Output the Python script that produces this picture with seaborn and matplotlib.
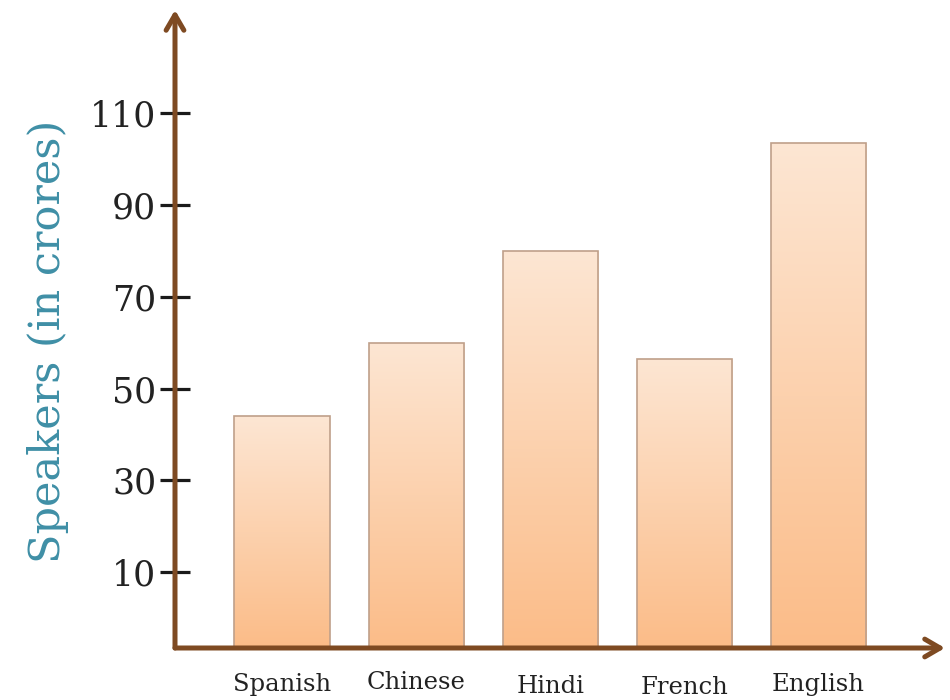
import numpy as np
import pandas as pd
import matplotlib
matplotlib.use("Agg")
import matplotlib.pyplot as plt
import seaborn as sns
from matplotlib.colors import LinearSegmentedColormap
from matplotlib.transforms import ScaledTranslation

# ---- data ----
languages = ["Spanish", "Chinese", "Hindi", "French", "English"]
speakers = [44, 60, 80, 56.5, 103.5]
y_ticks = [10, 30, 50, 70, 90, 110]
y_label = "Speakers (in crores)"

df = pd.DataFrame({"Language": languages, "Speakers": speakers})

sns.set_style("white")
plt.rcParams["font.family"] = ["DejaVu Serif", "DejaVu Sans"]

fig = plt.figure(figsize=(9.5, 7), dpi=100)
ax = fig.add_axes([175 / 950, 1 - 648 / 700, 770 / 950, 638 / 700])

brown = "#7e4a22"
sns.barplot(data=df, x="Language", y="Speakers", ax=ax, width=0.71,
            color="#fcd2ad", edgecolor="#bfa08a", linewidth=1.2,
            errorbar=None)

y0, y1 = -6.5, 132.5
x0, x1 = -0.798, 4.944

# gradient fill for each bar, extended down to the axis line
cmap = LinearSegmentedColormap.from_list("g", ["#fbbc88", "#fde6d3"])
grad = np.linspace(0, 1, 256).reshape(-1, 1)
for p in list(ax.patches):
    top = p.get_y() + p.get_height()
    p.set_y(y0)
    p.set_height(top - y0)
    p.set_facecolor("none")
    bx, bw = p.get_x(), p.get_width()
    im = ax.imshow(grad, cmap=cmap, origin="lower", aspect="auto",
                   extent=[bx, bx + bw, y0, top], zorder=1)
    im.set_clip_path(p)
    p.set_zorder(2)
ax.set_xlim(x0, x1)
ax.set_ylim(y0, y1)

for s in ax.spines.values():
    s.set_visible(False)

# axis arrows
arrow_kw = dict(arrowstyle="->,head_length=0.55,head_width=0.32",
                lw=3.6, color=brown, mutation_scale=20, shrinkA=0, shrinkB=0)
ax.annotate("", xy=(0, 1.0), xytext=(0, 0), xycoords="axes fraction",
            arrowprops=arrow_kw, annotation_clip=False, zorder=5)
ax.annotate("", xy=(1.0, 0), xytext=(0, 0), xycoords="axes fraction",
            arrowprops=arrow_kw, annotation_clip=False, zorder=5)

ax.set_yticks(y_ticks)
ax.set_yticklabels([str(t) for t in y_ticks])
ax.tick_params(axis="y", direction="inout", length=21, width=2.3,
               color="#1a1a1a", pad=3, labelsize=25, labelcolor="#222222",
               left=True)
ax.tick_params(axis="x", length=0, pad=18, labelsize=17.5, labelcolor="#222222")
label_shift = [0, 2, -2, -3, 0]
for lab, dy in zip(ax.get_xticklabels(), label_shift):
    lab.set_transform(lab.get_transform() + ScaledTranslation(0, dy / 100, fig.dpi_scale_trans))
ax.set_xlabel("")
ax.set_ylabel(y_label, fontsize=31, color="#3f8fa6")
ax.yaxis.set_label_coords(-0.138, 0.48)

fig.savefig("out.png", dpi=100, facecolor="white")
